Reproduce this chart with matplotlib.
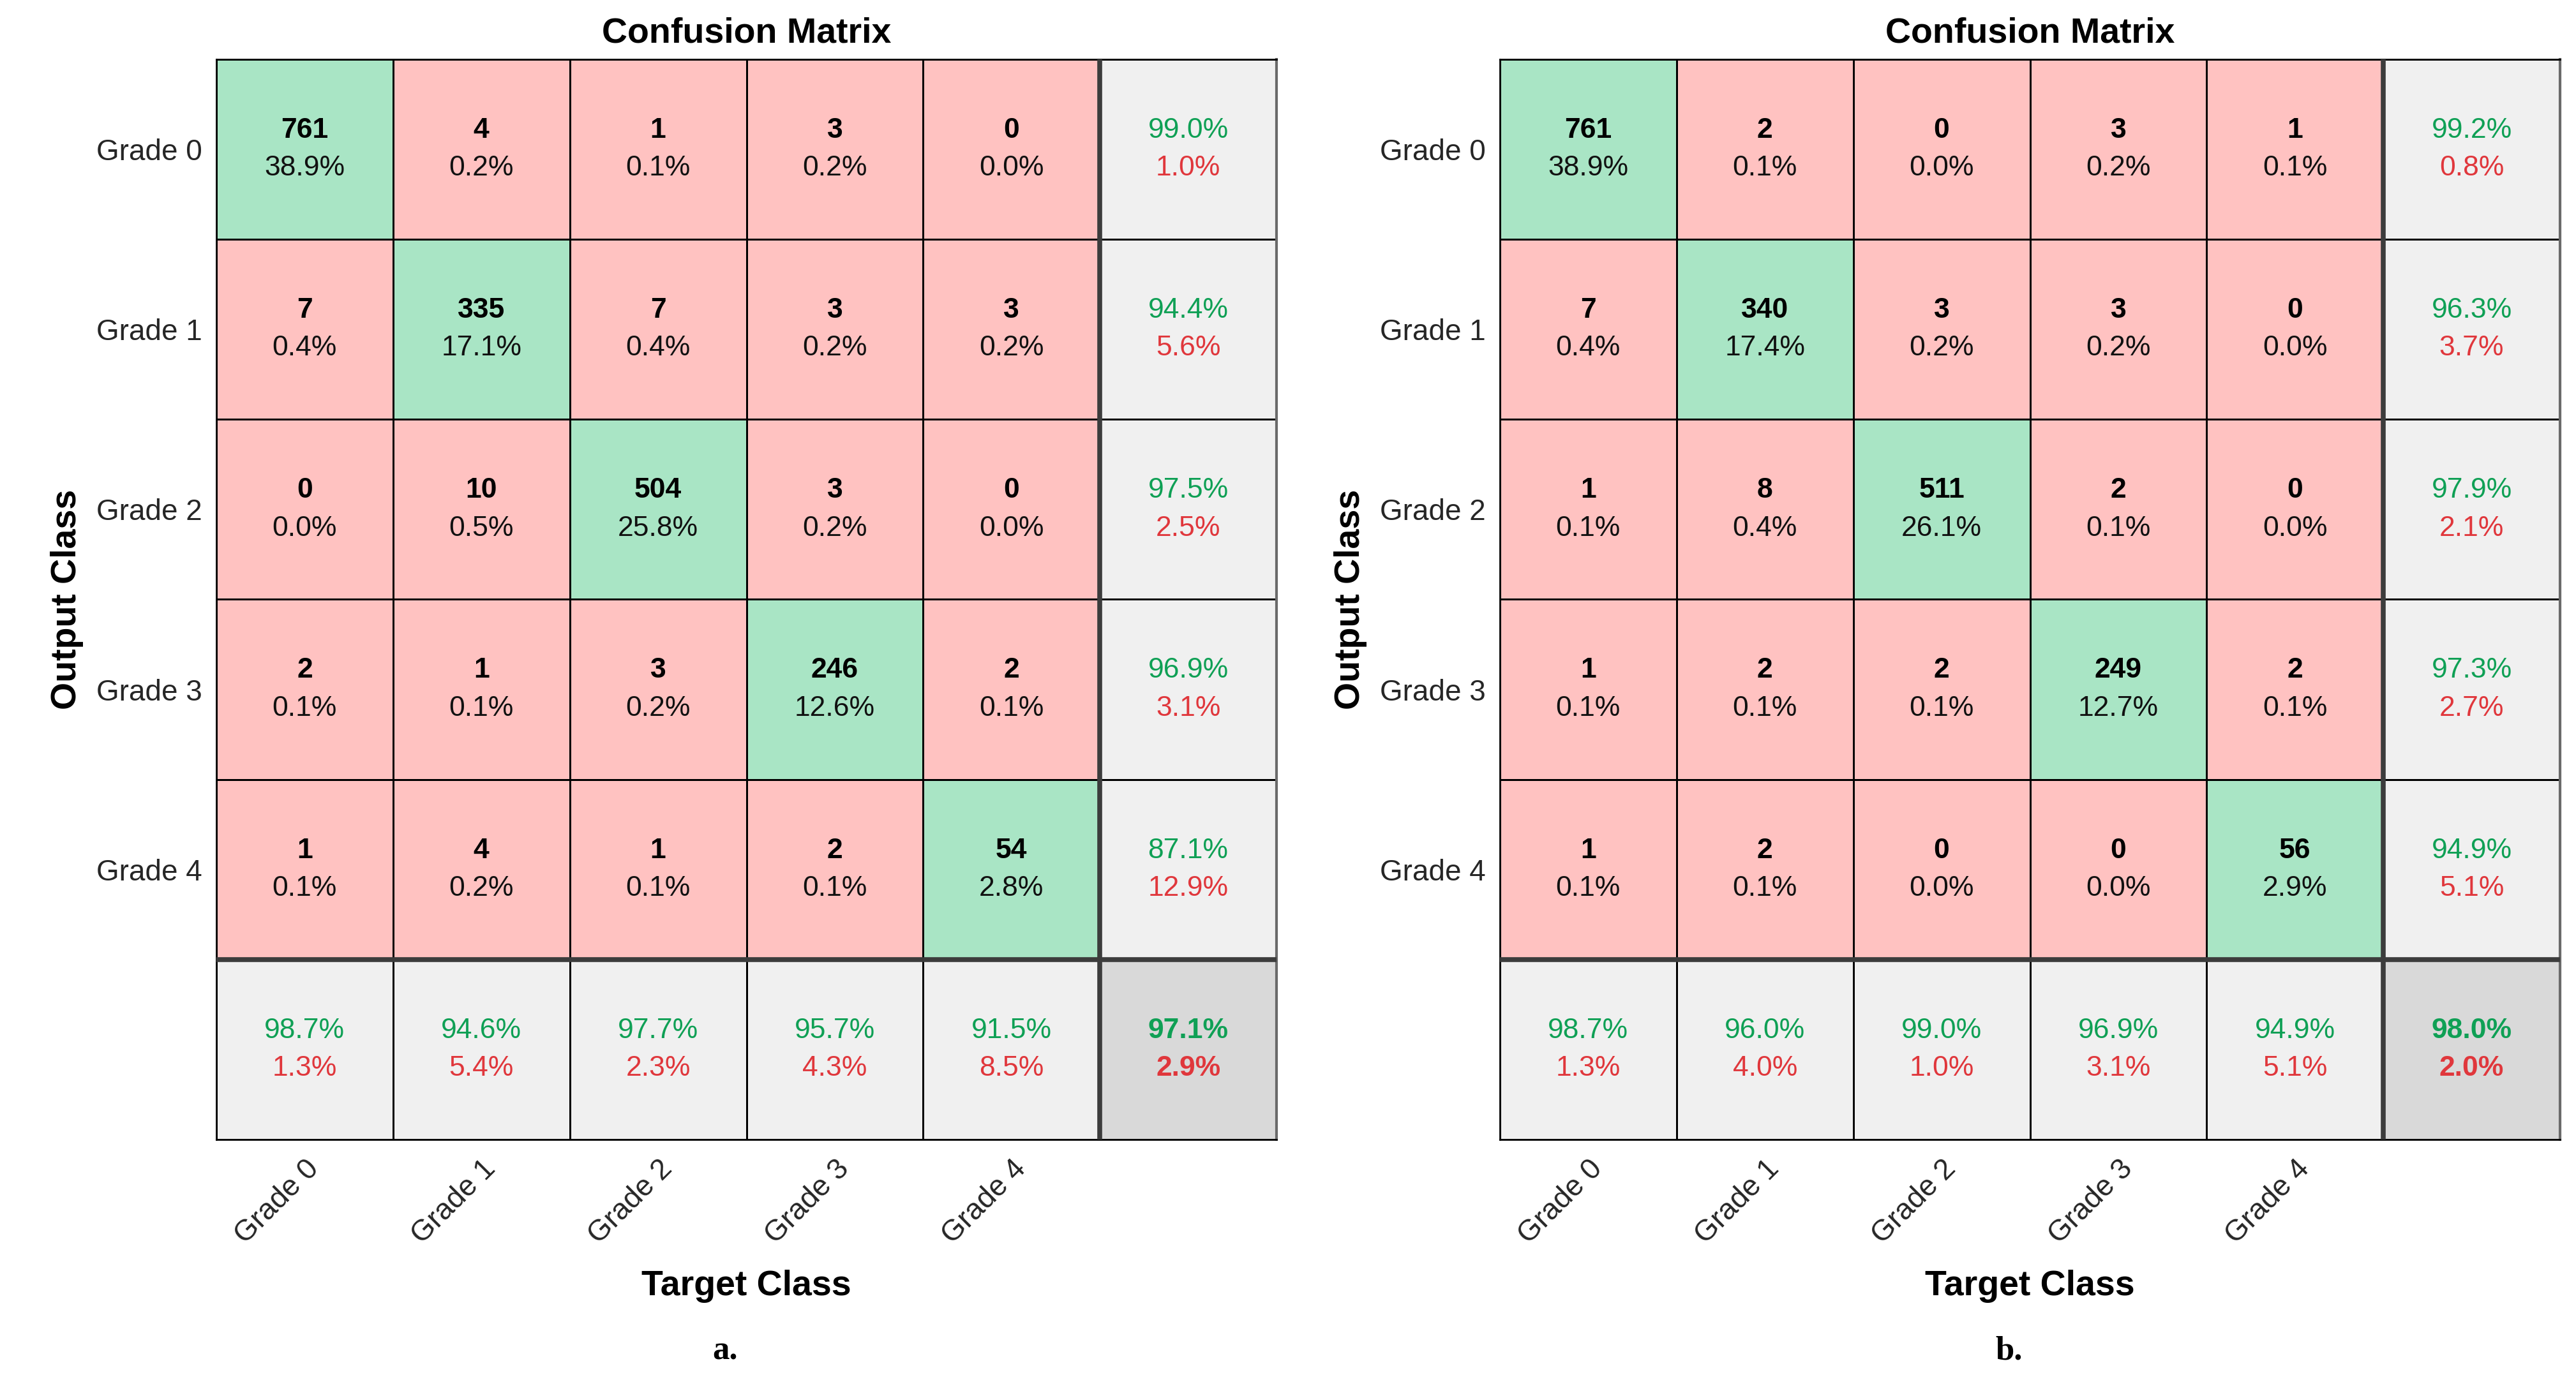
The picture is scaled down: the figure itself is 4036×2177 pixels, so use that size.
import numpy as np
import matplotlib
matplotlib.use("Agg")
import matplotlib.pyplot as plt
from matplotlib.colors import ListedColormap

plt.rcParams['font.family'] = ['Liberation Sans', 'DejaVu Sans']

classes = ["Grade 0", "Grade 1", "Grade 2", "Grade 3", "Grade 4"]

# ---- panel a ----
counts_a = [[761, 4, 1, 3, 0],
            [7, 335, 7, 3, 3],
            [0, 10, 504, 3, 0],
            [2, 1, 3, 246, 2],
            [1, 4, 1, 2, 54]]
pct_a = [[38.9, 0.2, 0.1, 0.2, 0.0],
         [0.4, 17.1, 0.4, 0.2, 0.2],
         [0.0, 0.5, 25.8, 0.2, 0.0],
         [0.1, 0.1, 0.2, 12.6, 0.1],
         [0.1, 0.2, 0.1, 0.1, 2.8]]
row_ok_a = [99.0, 94.4, 97.5, 96.9, 87.1]
row_err_a = [1.0, 5.6, 2.5, 3.1, 12.9]
col_ok_a = [98.7, 94.6, 97.7, 95.7, 91.5]
col_err_a = [1.3, 5.4, 2.3, 4.3, 8.5]
total_ok_a = 97.1
total_err_a = 2.9

# ---- panel b ----
counts_b = [[761, 2, 0, 3, 1],
            [7, 340, 3, 3, 0],
            [1, 8, 511, 2, 0],
            [1, 2, 2, 249, 2],
            [1, 2, 0, 0, 56]]
pct_b = [[38.9, 0.1, 0.0, 0.2, 0.1],
         [0.4, 17.4, 0.2, 0.2, 0.0],
         [0.1, 0.4, 26.1, 0.1, 0.0],
         [0.1, 0.1, 0.1, 12.7, 0.1],
         [0.1, 0.1, 0.0, 0.0, 2.9]]
row_ok_b = [99.2, 96.3, 97.9, 97.3, 94.9]
row_err_b = [0.8, 3.7, 2.1, 2.7, 5.1]
col_ok_b = [98.7, 96.0, 99.0, 96.9, 94.9]
col_err_b = [1.3, 4.0, 1.0, 3.1, 5.1]
total_ok_b = 98.0
total_err_b = 2.0

captions = ["a.", "b."]

C_GREEN = '#A9E5C5'
C_RED = '#FFC2C1'
C_GRAY = '#F0F0F0'
C_DGRAY = '#D9D9D9'
T_GREEN = '#0FA055'
T_RED = '#E0373C'
cmap = ListedColormap([C_RED, C_GREEN, C_GRAY, C_DGRAY])

fig = plt.figure(figsize=(40.37, 21.77), dpi=100)

FS_CELL = 32
FS_TICK = 33
FS_LAB = 40

def draw(ax, counts, pct, row_ok, row_err, col_ok, col_err, tot_ok, tot_err, cap):
    n = len(counts)
    kind = np.zeros((n + 1, n + 1))
    for i in range(n):
        kind[i, i] = 1
        kind[i, n] = 2
        kind[n, i] = 2
    kind[n, n] = 3
    ax.pcolormesh(np.arange(n + 2), np.arange(n + 2), kind, cmap=cmap,
                  vmin=-0.5, vmax=3.5, edgecolors='black', linewidth=1.8)
    ax.set_xlim(0, n + 1)
    ax.set_ylim(n + 1, 0)
    off = 0.105
    for i in range(n):
        for j in range(n):
            ax.text(j + 0.5, i + 0.5 - off, f"{counts[i][j]}", ha='center', va='center',
                    fontsize=FS_CELL, fontweight='bold', color='black')
            ax.text(j + 0.5, i + 0.5 + off, f"{pct[i][j]:.1f}%", ha='center', va='center',
                    fontsize=FS_CELL, color='#111111')
        ax.text(n + 0.5, i + 0.5 - off, f"{row_ok[i]:.1f}%", ha='center', va='center',
                fontsize=FS_CELL, color=T_GREEN)
        ax.text(n + 0.5, i + 0.5 + off, f"{row_err[i]:.1f}%", ha='center', va='center',
                fontsize=FS_CELL, color=T_RED)
        ax.text(i + 0.5, n + 0.5 - off, f"{col_ok[i]:.1f}%", ha='center', va='center',
                fontsize=FS_CELL, color=T_GREEN)
        ax.text(i + 0.5, n + 0.5 + off, f"{col_err[i]:.1f}%", ha='center', va='center',
                fontsize=FS_CELL, color=T_RED)
    ax.text(n + 0.5, n + 0.5 - off, f"{tot_ok:.1f}%", ha='center', va='center',
            fontsize=FS_CELL, color=T_GREEN, fontweight='bold')
    ax.text(n + 0.5, n + 0.5 + off, f"{tot_err:.1f}%", ha='center', va='center',
            fontsize=FS_CELL, color=T_RED, fontweight='bold')
    # thick separators
    ax.axhline(n, color='#3C3C3C', lw=5.5, zorder=5)
    ax.axvline(n, color='#3C3C3C', lw=5.5, zorder=5)
    for s in ['top', 'left', 'bottom']:
        ax.spines[s].set_linewidth(2.0)
        ax.spines[s].set_color('black')
    ax.spines['right'].set_linewidth(3.0)
    ax.spines['right'].set_color('#6A6A6A')
    ax.set_xticks(np.arange(n) + 0.5)
    ax.set_yticks(np.arange(n) + 0.5)
    ax.set_yticklabels(classes, fontsize=FS_TICK, color='#262626')
    ax.set_xticklabels(classes, fontsize=FS_TICK, color='#262626', rotation=45,
                       ha='right', va='top', rotation_mode='anchor')
    ax.tick_params(axis='both', length=0)
    ax.tick_params(axis='y', pad=16)
    ax.tick_params(axis='x', pad=17)
    ax.text(0.5, 1.024, "Confusion Matrix", transform=ax.transAxes, ha='center',
            va='center', fontsize=FS_LAB, fontweight='bold')
    ax.set_xlabel("Target Class", fontsize=FS_LAB, fontweight='bold')
    ax.set_ylabel("Output Class", fontsize=FS_LAB, fontweight='bold')
    ax.xaxis.set_label_coords(0.5, -0.1206)
    ax.yaxis.set_label_coords(-0.125, 0.5)
    ax.text(0.48, -0.196, cap, transform=ax.transAxes, ha='center', va='center',
            fontsize=38, fontweight='bold', family='Liberation Serif')

W, H = 4037, 2177
axa = fig.add_axes([339 / W, 1 - 1786 / H, (2000 - 339) / W, (1786 - 93) / H])
axb = fig.add_axes([2350 / W, 1 - 1786 / H, (4011 - 2350) / W, (1786 - 93) / H])
draw(axa, counts_a, pct_a, row_ok_a, row_err_a, col_ok_a, col_err_a, total_ok_a, total_err_a, captions[0])
draw(axb, counts_b, pct_b, row_ok_b, row_err_b, col_ok_b, col_err_b, total_ok_b, total_err_b, captions[1])

fig.savefig("out.png", dpi=100)
